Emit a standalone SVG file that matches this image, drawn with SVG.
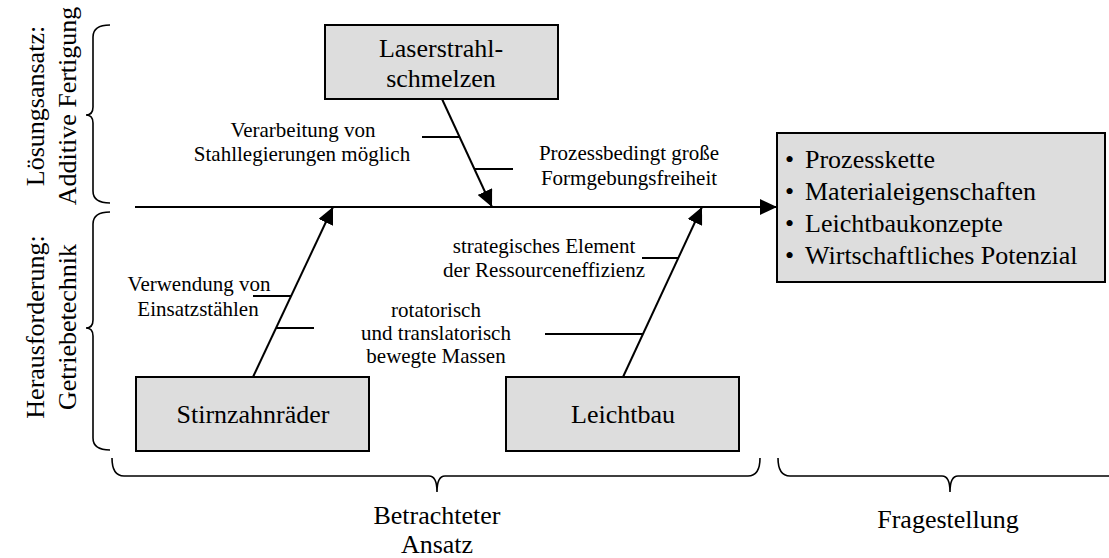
<svg xmlns="http://www.w3.org/2000/svg" width="1109" height="558" viewBox="0 0 1109 558">
<style>
.box{fill:#dddddd;stroke:#000;stroke-width:2}
.ln{stroke:#000;stroke-width:2;fill:none}
.br{stroke:#000;stroke-width:1.6;fill:none}
.tx{font-family:"Liberation Serif","Times New Roman",serif;fill:#000}
.t{font-size:26px;text-anchor:middle}
.l{font-size:21px;text-anchor:middle}
.b{font-size:26px;text-anchor:start}
</style>
<defs>
<marker id="ah" markerUnits="userSpaceOnUse" markerWidth="18" markerHeight="16" refX="17" refY="8" orient="auto">
<path d="M0,0 L17,8 L0,16 Z" fill="#000"/>
</marker>
</defs>
<rect width="1109" height="558" fill="#fff"/>
<g id="connectors">
<line class="ln" x1="135" y1="207" x2="777" y2="207" marker-end="url(#ah)"/>
<line class="ln" x1="442" y1="99" x2="492" y2="207" marker-end="url(#ah)"/>
<line class="ln" x1="253" y1="377" x2="333" y2="207" marker-end="url(#ah)"/>
<line class="ln" x1="623" y1="377" x2="702" y2="207" marker-end="url(#ah)"/>
<line class="ln" x1="422" y1="137" x2="459" y2="137"/>
<line class="ln" x1="474" y1="169" x2="513" y2="169"/>
<line class="ln" x1="253" y1="296" x2="291" y2="296"/>
<line class="ln" x1="276" y1="328" x2="314" y2="328"/>
<line class="ln" x1="642" y1="258" x2="679" y2="258"/>
<line class="ln" x1="545" y1="334" x2="643" y2="334"/>
</g>
<g id="brace-loesung"><path class="br" d="M110,25 Q93,25 93,37 L93,107 Q93,115 86,115 Q93,115 93,123 L93,191 Q93,203 110,203"/></g>
<g id="brace-heraus"><path class="br" d="M110,212 Q93,212 93,224 L93,320 Q93,328 86,328 Q93,328 93,336 L93,438 Q93,450 110,450"/></g>
<g id="brace-ansatz"><path class="br" d="M112,458 Q112,476 124,476 L429,476 Q437,476 437,492 Q437,476 445,476 L748,476 Q760,476 760,458"/></g>
<g id="brace-frage"><path class="br" d="M778,458 Q778,476 790,476 L942,476 Q950,476 950,492 Q950,476 958,476 L1109,476"/></g>
<g class="tx">
<g id="label-loesung">
<text class="t" transform="translate(44,106) rotate(-90)">Lösungsansatz:</text>
<text class="t" transform="translate(76,106) rotate(-90)">Additive Fertigung</text>
</g>
<g id="label-heraus">
<text class="t" transform="translate(44,327) rotate(-90)">Herausforderung:</text>
<text class="t" transform="translate(76,327) rotate(-90)">Getriebetechnik</text>
</g>
<g id="laser">
<rect class="box" x="325" y="25" width="233" height="74"/>
<text class="t" x="441" y="57">Laserstrahl-</text>
<text class="t" x="441" y="87">schmelzen</text>
</g>
<g id="stirn">
<rect class="box" x="136" y="377" width="233" height="74"/>
<text class="t" x="253" y="423">Stirnzahnräder</text>
</g>
<g id="leicht">
<rect class="box" x="506" y="377" width="233" height="74"/>
<text class="t" x="623" y="423">Leichtbau</text>
</g>
<g id="frage-box">
<rect class="box" x="777" y="133" width="328" height="149"/>
<text class="b" y="168"><tspan x="785">•</tspan><tspan x="805">Prozesskette</tspan></text>
<text class="b" y="200"><tspan x="785">•</tspan><tspan x="805">Materialeigenschaften</tspan></text>
<text class="b" y="232"><tspan x="785">•</tspan><tspan x="805">Leichtbaukonzepte</tspan></text>
<text class="b" y="264"><tspan x="785">•</tspan><tspan x="805">Wirtschaftliches Potenzial</tspan></text>
</g>
<g id="labels">
<text class="l" x="303" y="137">Verarbeitung von</text>
<text class="l" x="302" y="161">Stahllegierungen möglich</text>
<text class="l" x="629" y="160">Prozessbedingt große</text>
<text class="l" x="629" y="185">Formgebungsfreiheit</text>
<text class="l" x="544" y="253">strategisches Element</text>
<text class="l" x="544" y="277">der Ressourceneffizienz</text>
<text class="l" x="199" y="291">Verwendung von</text>
<text class="l" x="198" y="316">Einsatzstählen</text>
<text class="l" x="436" y="317">rotatorisch</text>
<text class="l" x="436" y="340">und translatorisch</text>
<text class="l" x="436" y="363">bewegte Massen</text>
</g>
<g id="bottom-labels">
<text class="t" x="437" y="524">Betrachteter</text>
<text class="t" x="437" y="553">Ansatz</text>
<text class="t" x="948" y="528">Fragestellung</text>
</g>
</g>
</svg>
